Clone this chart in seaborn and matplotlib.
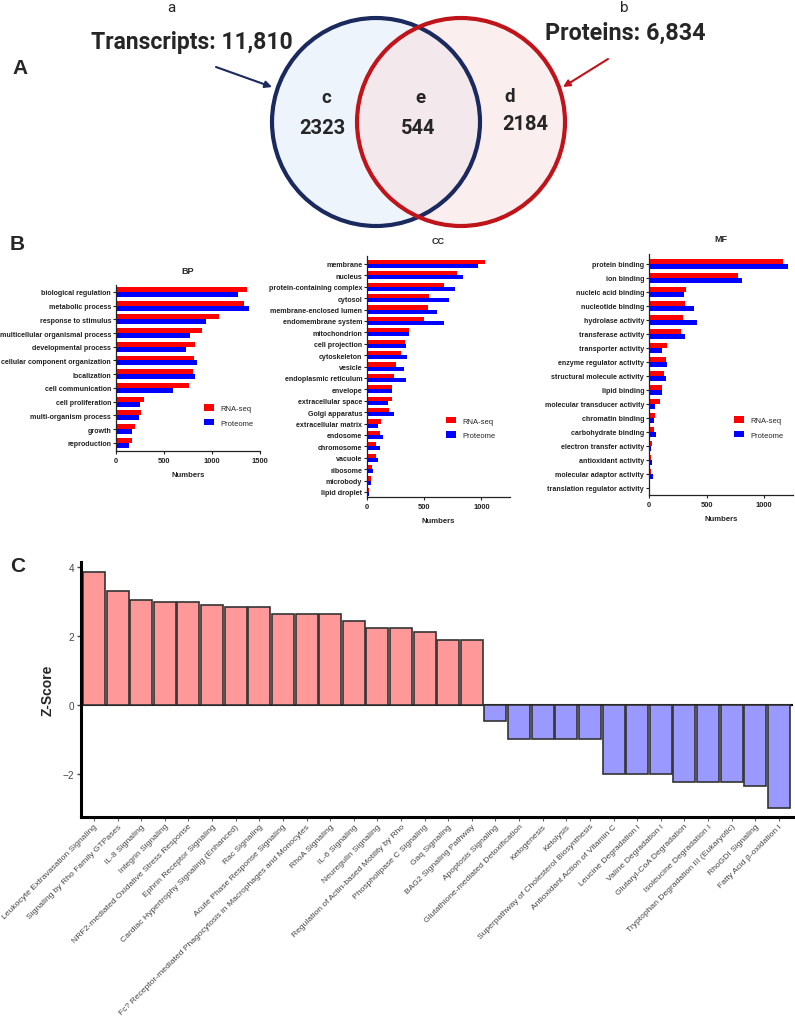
import numpy as np
import pandas as pd
import matplotlib
matplotlib.use('Agg')
import matplotlib.pyplot as plt
import seaborn as sns
from matplotlib.patches import Circle

sns.set_style('ticks')
plt.rcParams['font.family'] = ['Liberation Sans', 'DejaVu Sans']

# ---------------- data ----------------
venn_titles = ['Transcripts: 11,810', 'Proteins: 6,834']
venn_set_letters = ['a', 'b']
venn_region_letters = ['c', 'e', 'd']
venn_counts = [2323, 544, 2184]

bp_terms = ['biological regulation', 'metabolic process', 'response to stimulus',
            'multicellular organismal process', 'developmental process',
            'cellular component organization', 'localization', 'cell communication',
            'cell proliferation', 'multi-organism process', 'growth', 'reproduction']
bp_rna = [1364, 1330, 1068, 899, 823, 813, 806, 757, 295, 264, 194, 167]
bp_prot = [1270, 1387, 940, 771, 726, 840, 826, 597, 250, 243, 167, 135]

cc_terms = ['membrane', 'nucleus', 'protein-containing complex', 'cytosol',
            'membrane-enclosed lumen', 'endomembrane system', 'mitochondrion',
            'cell projection', 'cytoskeleton', 'vesicle', 'endoplasmic reticulum',
            'envelope', 'extracellular space', 'Golgi apparatus', 'extracellular matrix',
            'endosome', 'chromosome', 'vacuole', 'ribosome', 'microbody', 'lipid droplet']
cc_rna = [1032, 791, 672, 538, 529, 494, 363, 334, 297, 256, 233, 218, 218, 189, 122,
          110, 81, 81, 44, 32, 17]
cc_prot = [968, 843, 773, 715, 613, 672, 369, 340, 346, 320, 340, 218, 180, 233, 99,
           137, 113, 93, 49, 32, 17]

mf_terms = ['protein binding', 'ion binding', 'nucleic acid binding', 'nucleotide binding',
            'hydrolase activity', 'transferase activity', 'transporter activity',
            'enzyme regulator activity', 'structural molecule activity', 'lipid binding',
            'molecular transducer activity', 'chromatin binding', 'carbohydrate binding',
            'electron transfer activity', 'antioxidant activity',
            'molecular adaptor activity', 'translation regulator activity']
mf_rna = [1165, 774, 319, 310, 299, 278, 159, 145, 133, 116, 99, 55, 46, 23, 20, 20, 12]
mf_prot = [1203, 809, 307, 391, 414, 316, 113, 154, 145, 116, 49, 46, 58, 14, 23, 32, 6]

go_sources = ['RNA-seq', 'Proteome']

path_names = ['Leukocyte Extravasation Signaling', 'Signaling by Rho Family GTPases',
              'IL-8 Signaling', 'Integrin Signaling',
              'NRF2-mediated Oxidative Stress Response', 'Ephrin Receptor Signaling',
              'Cardiac Hypertrophy Signaling (Enhanced)', 'Rac Signaling',
              'Acute Phase Response Signaling',
              'Fc? Receptor-mediated Phagocytosis in Macrophages and Monocytes',
              'RhoA Signaling', 'IL-6 Signaling', 'Neuregulin Signaling',
              'Regulation of Actin-based Motility by Rho', 'Phospholipase C Signaling',
              'Gaq Signaling', 'BAG2 Signaling Pathway', 'Apoptosis Signaling',
              'Glutathione-mediated Detoxification', 'Ketogenesis', 'Ketolysis',
              'Superpathway of Cholesterol Biosynthesis',
              'Antioxidant Action of Vitamin C', 'Leucine Degradation I',
              'Valine Degradation I', 'Glutaryl-CoA Degradation',
              'Isoleucine Degradation I', 'Tryptophan Degradation III (Eukaryotic)',
              'RhoGDI Signaling', 'Fatty Acid \u03b2-oxidation I']
path_z = [3.87, 3.32, 3.05, 3.0, 3.0, 2.89, 2.83, 2.83, 2.65, 2.65, 2.65, 2.45, 2.24,
          2.24, 2.13, 1.9, 1.89, -0.45, -1.0, -1.0, -1.0, -1.0, -2.0, -2.0, -2.0,
          -2.24, -2.24, -2.24, -2.35, -3.0]

# ---------------- figure ----------------
W, H = 795, 1020
fig = plt.figure(figsize=(W / 100, H / 100), dpi=100)


def px_axes(x0, y0, x1, y1):
    return fig.add_axes([x0 / W, 1 - y1 / H, (x1 - x0) / W, (y1 - y0) / H])


NARROW = ['Roboto', 'DejaVu Sans']

# ---- Panel A : Venn ----
axv = px_axes(0, 0, 795, 240)
axv.set_xlim(0, 795)
axv.set_ylim(240, 0)
axv.axis('off')
blue_edge = '#1B2A5E'
red_edge = '#C0141B'
axv.add_patch(Circle((376, 123), 104, facecolor=(0.87, 0.92, 0.975, 0.5),
                     edgecolor='none', zorder=1))
axv.add_patch(Circle((461, 123), 104, facecolor=(0.975, 0.87, 0.87, 0.5),
                     edgecolor='none', zorder=1))
axv.add_patch(Circle((376, 123), 104, facecolor='none', edgecolor=blue_edge,
                     lw=3.0, zorder=2))
axv.add_patch(Circle((461, 123), 104, facecolor='none', edgecolor=red_edge,
                     lw=3.0, zorder=3))
axv.annotate('', xy=(272, 88), xytext=(216, 68),
             arrowprops=dict(arrowstyle='-|>', color=blue_edge, lw=1.5,
                             mutation_scale=10, shrinkA=0, shrinkB=0))
axv.annotate('', xy=(563, 88), xytext=(608, 60),
             arrowprops=dict(arrowstyle='-|>', color=red_edge, lw=1.5,
                             mutation_scale=10, shrinkA=0, shrinkB=0))
axv.text(171, 8, venn_set_letters[0], ha='center', va='center', fontsize=11,
         family=NARROW)
axv.text(624, 8, venn_set_letters[1], ha='center', va='center', fontsize=11,
         family=NARROW)
axv.text(192, 43, venn_titles[0], ha='center', va='center', fontsize=16.5,
         fontweight='bold', family=NARROW)
axv.text(625, 33, venn_titles[1], ha='center', va='center', fontsize=16.8,
         fontweight='bold', family=NARROW)
for (lx, ly), (nx, ny), lab, cnt in zip([(326, 98), (420, 98), (510, 97)],
                                         [(322, 128), (418, 128), (525, 125)],
                                         venn_region_letters, venn_counts):
    axv.text(lx, ly, lab, ha='center', va='center', fontsize=13.5,
             fontweight='bold', family=NARROW)
    axv.text(nx, ny, str(cnt), ha='center', va='center', fontsize=14.5,
             fontweight='bold', family=NARROW)

# ---- Panel B : GO bar charts ----
palette = {'RNA-seq': '#FF0000', 'Proteome': '#0000FF'}


def go_panel(box, title, terms, rna, prot, xmax, ticks, ylim, leg_xy):
    ax = px_axes(*box)
    df = pd.DataFrame({
        'term': terms * 2,
        'count': rna + prot,
        'source': [go_sources[0]] * len(terms) + [go_sources[1]] * len(terms),
    })
    sns.barplot(data=df, y='term', x='count', hue='source', palette=palette,
                orient='h', width=0.72, linewidth=0, saturation=1, ax=ax)
    ax.set_xlim(0, xmax)
    ax.set_xticks(ticks)
    ax.set_ylim(*ylim)
    ax.set_ylabel('')
    ax.set_xlabel('Numbers', fontsize=5.6, fontweight='bold', labelpad=5)
    ax.set_title(title, fontsize=6.5, fontweight='bold', pad=9)
    sns.despine(ax=ax)
    for s in ['left', 'bottom']:
        ax.spines[s].set_linewidth(0.9)
        ax.spines[s].set_color('#222222')
    ax.tick_params(axis='y', length=2.5, width=0.8, pad=1, labelsize=5.1,
                   colors='#222222')
    ax.tick_params(axis='x', length=2.5, width=0.8, pad=2, labelsize=5.4,
                   colors='#222222')
    for lbl in ax.get_yticklabels() + ax.get_xticklabels():
        lbl.set_fontweight('bold')
    h, l = ax.get_legend_handles_labels()
    ax.legend(h, l, loc='center left', bbox_to_anchor=leg_xy, frameon=False,
              fontsize=5.5, handlelength=1.3, handleheight=0.9,
              handletextpad=0.8, labelspacing=0.85, borderpad=0, borderaxespad=0)
    return ax


go_panel((116, 286, 260, 452), 'BP', bp_terms, bp_rna, bp_prot, 1500,
         [0, 500, 1000, 1500], (11.6, -0.5), (0.611, 0.214))
go_panel((367, 257, 510, 498), 'CC', cc_terms, cc_rna, cc_prot, 1250,
         [0, 500, 1000], (20.44, -0.7), (0.552, 0.286))
go_panel((649, 255, 793, 496), 'MF', mf_terms, mf_rna, mf_prot, 1250,
         [0, 500, 1000], (16.5, -0.71), (0.59, 0.28))

# ---- Panel C : pathway z-scores ----
axc = px_axes(81, 563, 793, 818)
direction = ['up' if z > 0 else 'down' for z in path_z]
sns.barplot(x=path_names, y=path_z, hue=direction,
            palette={'up': '#FF9999', 'down': '#9999FF'}, dodge=False,
            saturation=1, width=0.93, edgecolor='#333333', linewidth=1.2,
            legend=False, ax=axc)
axc.set_xlim(-0.55, 29.6)
axc.set_ylim(-3.25, 4.15)
axc.set_yticks([-2, 0, 2, 4])
axc.axhline(0, color='black', lw=1.5, zorder=0.5)
sns.despine(ax=axc)
axc.spines['left'].set_linewidth(2.2)
axc.spines['bottom'].set_linewidth(2.2)
axc.spines['left'].set_color('black')
axc.spines['bottom'].set_color('black')
axc.tick_params(axis='y', length=3, width=1, labelsize=7.2, colors='#444444', pad=2)
axc.tick_params(axis='x', length=3, width=0.8, colors='#666666', pad=1)
axc.set_xticks(range(len(path_names)))
axc.set_xticklabels(path_names, rotation=45, ha='right', rotation_mode='anchor',
                    fontsize=6.1, color='#444444')
axc.set_ylabel('Z-Score', fontsize=10, fontweight='bold', labelpad=6)

# panel letters
for letter, (x, y) in zip(['A', 'B', 'C'], [(20, 68), (17, 245), (18, 567)]):
    fig.text(x / W, 1 - y / H, letter, ha='center', va='center', fontsize=15,
             fontweight='bold')

fig.savefig('out.png', dpi=100)
